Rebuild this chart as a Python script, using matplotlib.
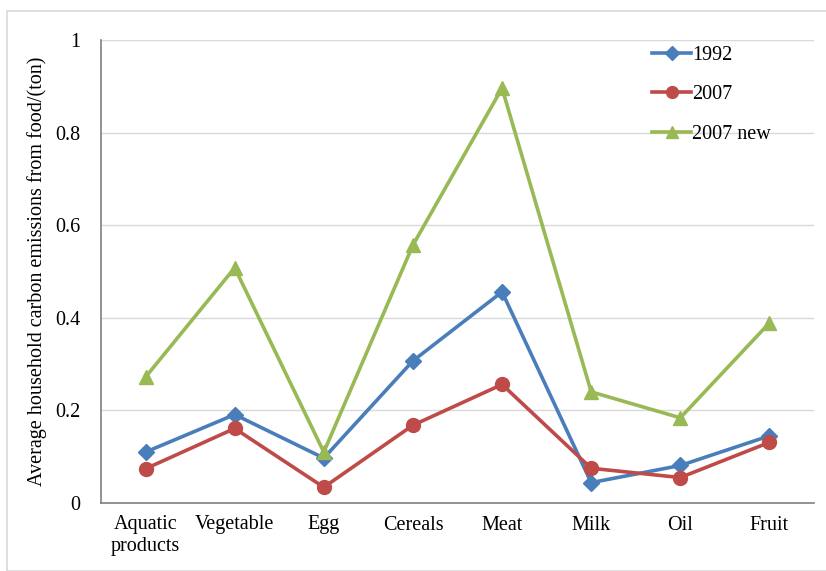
import numpy as np
import matplotlib.pyplot as plt
from matplotlib.patches import Rectangle

# Average household carbon emissions from food, by category
categories = ['Aquatic\nproducts', 'Vegetable', 'Egg', 'Cereals', 'Meat', 'Milk', 'Oil', 'Fruit']
y1992 = [0.110, 0.191, 0.097, 0.307, 0.456, 0.044, 0.081, 0.145]
y2007 = [0.074, 0.161, 0.034, 0.168, 0.256, 0.075, 0.055, 0.131]
y2007new = [0.272, 0.508, 0.110, 0.557, 0.896, 0.240, 0.184, 0.389]
yticks = [0, 0.2, 0.4, 0.6, 0.8, 1]
ytick_labels = ['0', '0.2', '0.4', '0.6', '0.8', '1']

plt.rcParams['font.family'] = ['Liberation Serif', 'DejaVu Serif']
fs = 14.5

fig = plt.figure(figsize=(8.26, 5.71), dpi=100)
ax = fig.add_axes([101/826, 1 - 503/571, 713/826, 463/571])

# light frame round the chart area
fig.patches.append(Rectangle((7/826, 0), 1, 1 - 11/571, transform=fig.transFigure,
                             fill=False, edgecolor='#D9D9D9', linewidth=1.2))

x = np.arange(len(categories))
ax.plot(x, y1992, color='#4A7EBB', lw=2.6, marker='D', ms=8.5, label='1992')
ax.plot(x, y2007, color='#BE4B48', lw=2.6, marker='o', ms=10, label='2007')
ax.plot(x, y2007new, color='#98B954', lw=2.6, marker='^', ms=10.5, label='2007 new')

ax.set_xlim(-0.5, len(categories) - 0.5)
ax.set_ylim(0, 1)
ax.set_xticks(x)
ax.set_xticklabels(categories, fontsize=fs, linespacing=1.15)
ax.set_yticks(yticks)
ax.set_yticklabels(ytick_labels, fontsize=fs)
ax.tick_params(axis='y', length=0, pad=15)
ax.tick_params(axis='x', length=0, pad=9)
ax.grid(axis='y', color='#D9D9D9', lw=1)
ax.set_axisbelow(True)
for side in ['top', 'right']:
    ax.spines[side].set_visible(False)
for side in ['left', 'bottom']:
    ax.spines[side].set_color('#808080')
    ax.spines[side].set_linewidth(1.2)

ax.set_ylabel('Average household carbon emissions from food/(ton)', fontsize=fs, labelpad=6)

ax.legend(loc='upper left', bbox_to_anchor=(0.748, 1.026), frameon=False, fontsize=fs,
          handlelength=1.9, labelspacing=1.0, handletextpad=0.05, markerscale=0.85)

fig.savefig('out.png', dpi=100)
